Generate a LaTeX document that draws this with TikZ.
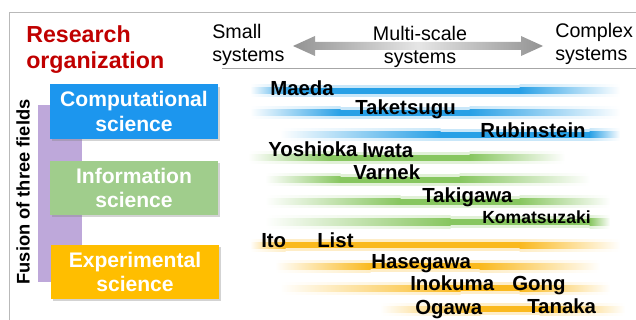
\documentclass[tikz,border=0pt]{standalone}
\usepackage{fontspec}
\setmainfont{Liberation Sans}
\usepackage{tikz}
\usetikzlibrary{calc,shadows}

\definecolor{orgred}{RGB}{192,0,0}
\definecolor{compblue}{RGB}{28,150,238}
\definecolor{infogreen}{RGB}{160,205,140}
\definecolor{expyellow}{RGB}{255,190,0}
\definecolor{fusionpurple}{RGB}{190,168,218}
\definecolor{barblue}{RGB}{40,160,230}
\definecolor{bargreen}{RGB}{135,198,95}
\definecolor{barorange}{RGB}{250,185,30}

\tikzset{
  fieldbox/.style={minimum width=4.2cm, minimum height=1.35cm, inner sep=0pt, align=center,
    text=white, font=\fontsize{15}{17.5}\selectfont\bfseries,
    drop shadow={shadow xshift=1.5pt, shadow yshift=-1.5pt, opacity=0.35}},
  member/.style={anchor=base west, inner sep=0pt, font=\fontsize{14.5}{16}\selectfont\bfseries},
  header/.style={inner sep=0pt, font=\fontsize{14}{16.3}\selectfont}
}

\begin{document}
\begin{tikzpicture}[x=0.025cm, y=-0.025cm]

            \useasboundingbox (0,0) rectangle (636,320);

            \draw[gray!55] (9,320) -- (9,12) -- (636,12);

            \node[anchor=north west, inner sep=0pt, align=left, text=orgred,
                  font=\fontsize{16.5}{18.6}\selectfont\bfseries] (org) at (26,25) {Research\\organization};

            % scale header
            \node[header, anchor=north west, align=left] (small) at (212,24) {Small\\systems};
            \node[header, anchor=north, align=center] (multi) at (420,26) {Multi-scale\\systems};
            \node[header, anchor=north west, align=left] (complex) at (555,23) {Complex\\systems};
            \coordinate (arrL) at (293,46);
            \coordinate (arrR) at (543,46);
            \shade[left color=gray!85, right color=gray!85, middle color=gray!20]
              (arrL) -- ($(arrL)+(22,-10)$) -- ($(arrL)+(22,-4)$) -- ($(arrR)+(-22,-4)$)
              -- ($(arrR)+(-22,-10)$) -- (arrR) -- ($(arrR)+(-22,10)$) -- ($(arrR)+(-22,4)$)
              -- ($(arrL)+(22,4)$) -- ($(arrL)+(22,10)$) -- cycle;
            \draw[gray!70] (222,68) -- (636,68);

            % fields
            \fill[fusionpurple] (38,105) rectangle (82,282);
            \node[rotate=90, inner sep=0pt, font=\fontsize{13}{15}\selectfont\bfseries] (fusion) at (23,192) {Fusion of three fields};
            \node[fieldbox, fill=compblue] (comp) at (134,111.5) {Computational\\science};
            \node[fieldbox, fill=infogreen] (info) at (134,188) {Information\\science};
            \node[fieldbox, fill=expyellow] (exp) at (135,272) {Experimental\\science};

            % bars
            \foreach \y/\a/\b/\c/\d in {91/250/290/520/620, 113/250/340/470/620, 135/280/440/590/620}{
              \shade[left color=white, right color=barblue!25] (\a,\y-6) rectangle (\b+0.5,\y+6);
              \fill[barblue!25] (\b,\y-6) rectangle (\c,\y+6);
              \shade[left color=barblue!25, right color=white] (\c-0.5,\y-6) rectangle (\d,\y+6);
              \shade[left color=white, right color=barblue] (\a,\y-3) rectangle (\b+0.5,\y+3);
              \fill[barblue] (\b,\y-3) rectangle (\c,\y+3);
              \shade[left color=barblue, right color=white] (\c-0.5,\y-3) rectangle (\d,\y+3);
            }
            \foreach \y/\a/\b/\c/\d in {158/248/330/470/565, 180/265/340/460/590, 202/265/400/520/610, 222/265/450/590/610}{
              \shade[left color=white, right color=bargreen!25] (\a,\y-6) rectangle (\b+0.5,\y+6);
              \fill[bargreen!25] (\b,\y-6) rectangle (\c,\y+6);
              \shade[left color=bargreen!25, right color=white] (\c-0.5,\y-6) rectangle (\d,\y+6);
              \shade[left color=white, right color=bargreen] (\a,\y-3) rectangle (\b+0.5,\y+3);
              \fill[bargreen] (\b,\y-3) rectangle (\c,\y+3);
              \shade[left color=bargreen, right color=white] (\c-0.5,\y-3) rectangle (\d,\y+3);
            }
            \foreach \y/\a/\b/\c/\d in {245/250/285/520/620, 266/275/370/480/600, 288/280/460/520/610, 309/380/480/540/625}{
              \shade[left color=white, right color=barorange!25] (\a,\y-6) rectangle (\b+0.5,\y+6);
              \fill[barorange!25] (\b,\y-6) rectangle (\c,\y+6);
              \shade[left color=barorange!25, right color=white] (\c-0.5,\y-6) rectangle (\d,\y+6);
              \shade[left color=white, right color=barorange] (\a,\y-3) rectangle (\b+0.5,\y+3);
              \fill[barorange] (\b,\y-3) rectangle (\c,\y+3);
              \shade[left color=barorange, right color=white] (\c-0.5,\y-3) rectangle (\d,\y+3);
            }

            % members
            \node[member] (maeda) at (270,96) {Maeda};
            \node[member] (taketsugu) at (355,115) {Taketsugu};
            \node[member] (rubinstein) at (480,138) {Rubinstein};
            \node[member] (yoshioka) at (268,157) {Yoshioka};
            \node[member] (iwata) at (362,158) {Iwata};
            \node[member] (varnek) at (353,180) {Varnek};
            \node[member] (takigawa) at (422,202) {Takigawa};
            \node[member, font=\fontsize{12.5}{14}\selectfont\bfseries] (komatsuzaki) at (482,223) {Komatsuzaki};
            \node[member] (ito) at (261,247) {Ito};
            \node[member] (list) at (317,247) {List};
            \node[member] (hasegawa) at (371,268) {Hasegawa};
            \node[member] (inokuma) at (410,290) {Inokuma};
            \node[member] (gong) at (512,290) {Gong};
            \node[member] (ogawa) at (415,314) {Ogawa};
            \node[member] (tanaka) at (527,313) {Tanaka};

          \end{tikzpicture}
\end{document}
